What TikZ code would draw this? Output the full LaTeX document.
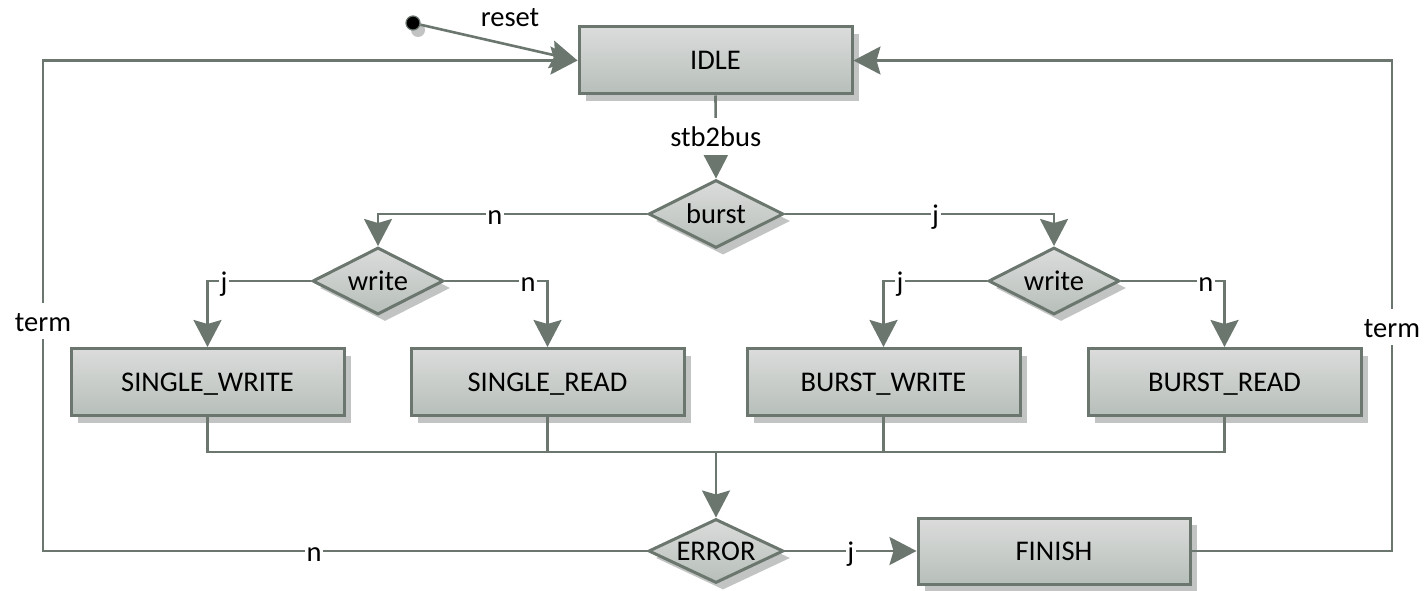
\documentclass[tikz,border=0pt]{standalone}
\usepackage{fontspec}
\setmainfont{Carlito}
\usetikzlibrary{arrows.meta,shapes.geometric,shadows}
\definecolor{edge}{RGB}{106,118,110}
\definecolor{boxtop}{RGB}{219,220,219}
\definecolor{boxbot}{RGB}{183,191,186}
\definecolor{shadowgray}{RGB}{194,196,195}
\begin{document}
\begin{tikzpicture}[x=1pt,y=-1pt,
  font=\fontsize{28.5}{34}\selectfont,
  wire/.style={draw=edge, line width=2.6pt},
  arr/.style={wire, -{Stealth[length=27pt,width=28pt,inset=4pt]}},
  castshadow/.style={drop shadow={shadow xshift=7pt, shadow yshift=-7pt, opacity=1, fill=shadowgray, draw=none}},
  state/.style={rectangle, draw=edge, line width=3pt, top color=boxtop, bottom color=boxbot,
    minimum width=273pt, minimum height=67pt, inner sep=0pt, text height=18.3pt, text depth=0pt, castshadow},
  decision/.style={diamond, aspect=2, draw=edge, line width=3pt, top color=boxtop, bottom color=boxbot,
    minimum width=135pt, minimum height=67pt, inner sep=0pt, castshadow},
  lbl/.style={fill=white, inner xsep=1.5pt, inner ysep=1pt, text height=20pt, text depth=0pt},
  vlbl/.style={lbl, inner ysep=8pt},
]
\useasboundingbox (0,0) rectangle (1427,591);

% states
\node[state] (idle) at (715.5,60.5) {IDLE};
\node[state] (sw) at (207.5,382) {SINGLE\_WRITE};
\node[state] (sr) at (547.5,382) {SINGLE\_READ};
\node[state] (bw) at (883.5,382) {BURST\_WRITE};
\node[state] (br) at (1224.5,382) {BURST\_READ};
\node[state, minimum width=272pt, minimum height=66pt] (finish) at (1054,551) {FINISH};

% decisions
\node[decision, minimum height=68pt] (burst) at (716,214) {burst};
\node[decision, minimum width=131pt] (wl) at (378,281) {write};
\node[decision, minimum width=131pt] (wr) at (1054,281) {write};
\node[decision, minimum height=64pt] (error) at (716,551) {ERROR};

% initial state
\node[circle, fill=black, draw=edge, line width=1.2pt, minimum size=14pt, inner sep=0pt,
  drop shadow={shadow xshift=5pt, shadow yshift=-7pt, opacity=1, fill=shadowgray}] (init) at (413,23) {};
\node (lreset) at (510,18) {reset};

% corner points of the return loops and the collecting bus
\coordinate (lc) at (43,551);
\coordinate (rc) at (1392,551);
\coordinate (bus) at (716,452);

% transitions
\draw[arr] (init) -- (idle.west);
\draw[arr] (idle.south) -- node[lbl, inner ysep=9pt, text height=19pt] {stb2bus} (burst.north);
\draw[arr] (burst.west) -| node[lbl, pos=0.283] {n} (wl.north);
\draw[arr] (burst.east) -| node[lbl, pos=0.28] {j} (wr.north);
\draw[arr] (wl.west) -| node[lbl, pos=0.42] {j} (sw.north);
\draw[arr] (wl.east) -| node[lbl, pos=0.405] {n} (sr.north);
\draw[arr] (wr.west) -| node[lbl, pos=0.42] {j} (bw.north);
\draw[arr] (wr.east) -| node[lbl, pos=0.41] {n} (br.north);

\draw[wire] (sw.south) |- (bus) -| (br.south);
\draw[wire] (sr.south) |- (bus);
\draw[wire] (bw.south) |- (bus);
\draw[arr] (bus) -- (error.north);

\draw[arr] (error.east) -- node[lbl] {j} (finish.west);
\draw[arr] (error.west) -- node[lbl, pos=0.551] {n} (lc) |- node[vlbl, pos=0.234] {term} (idle.west);
\draw[arr] (finish.east) -- (rc) |- node[vlbl, pos=0.228] {term} (idle.east);
\end{tikzpicture}
\end{document}
